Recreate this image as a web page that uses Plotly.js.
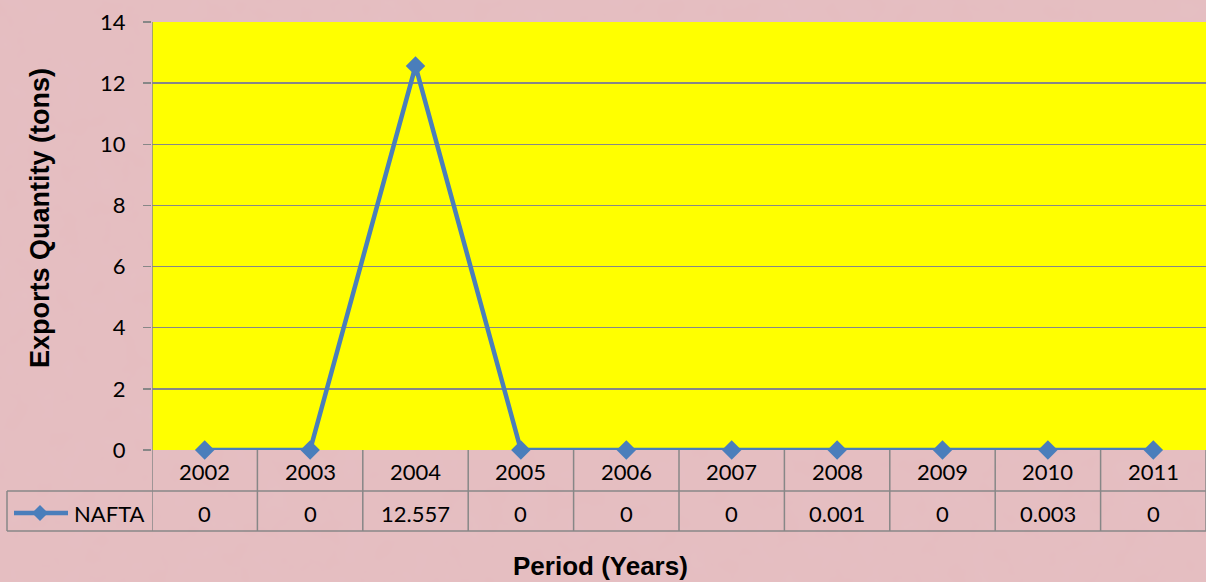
<!DOCTYPE html>
<html>
<head>
<meta charset="utf-8">
<script src="https://cdn.plot.ly/plotly-3.0.1.min.js"></script>
<style>
  html, body { margin: 0; padding: 0; }
  body {
    background-color: #e5bdc0;
    background-image: url("data:image/svg+xml;utf8,<svg xmlns='http://www.w3.org/2000/svg' width='1206' height='582'><filter id='n'><feTurbulence type='fractalNoise' baseFrequency='0.035' numOctaves='3' seed='7'/><feColorMatrix type='matrix' values='0 0 0 0 0.78  0 0 0 0 0.55  0 0 0 0 0.58  0 0 0 0.35 -0.05'/></filter><rect width='100%25' height='100%25' filter='url(%23n)'/></svg>");
  }
  #chart { width: 1206px; height: 582px; }
</style>
</head>
<body>
<div id="chart"></div>
<script>
// ---- data ----
var years = ['2002', '2003', '2004', '2005', '2006', '2007', '2008', '2009', '2010', '2011'];
var naftaValues = [0, 0, 12.557, 0, 0, 0, 0.001, 0, 0.003, 0];
var seriesName = 'NAFTA';
var yTickValues = [0, 2, 4, 6, 8, 10, 12, 14];
var yTitle = 'Exports Quantity (tons)';
var xTitle = 'Period (Years)';

// ---- geometry helpers (pixels -> paper) ----
var W = 1206, H = 582;
var mL = 152, mR = 0, mT = 22, mB = 132;
var plotW = W - mL - mR, plotH = H - mT - mB;
function px(X) { return (X - mL) / plotW; }
function py(Y) { return (H - mB - Y) / plotH; }

var lineColor = '#4a7ebb';
var gridColor = '#878787';
var tickFont = { family: 'Lato, "Open Sans", sans-serif', size: 22, color: '#000000' };
var xTitleFont = { family: '"Liberation Sans", Arial, sans-serif', size: 26, color: '#000000' };
var yTitleFont = { family: '"Liberation Sans", Arial, sans-serif', size: 27, color: '#000000' };

var trace = {
  x: years,
  y: naftaValues,
  type: 'scatter',
  mode: 'lines+markers',
  name: seriesName,
  line: { color: lineColor, width: 4.5 },
  marker: { symbol: 'diamond', size: 15, color: lineColor },
  cliponaxis: false,
  showlegend: false
};

var shapes = [];
var annotations = [];

var rowMid = py(491), rowBot = py(531), yearY = py(471), valY = py(513);

// vertical table lines at category boundaries
for (var i = 0; i <= years.length; i++) {
  shapes.push({ type: 'line', xref: 'x', yref: 'paper', x0: i - 0.5, x1: i - 0.5,
    y0: i === 0 ? 1 : 0, y1: rowBot, line: { color: gridColor, width: 1.5 } });
}
// horizontal table lines
shapes.push({ type: 'line', xref: 'paper', yref: 'paper', x0: px(7), x1: 1, y0: rowMid, y1: rowMid,
  line: { color: gridColor, width: 1.5 } });
shapes.push({ type: 'line', xref: 'paper', yref: 'paper', x0: px(7), x1: 1, y0: rowBot, y1: rowBot,
  line: { color: gridColor, width: 1.5 } });
// legend cell left border
shapes.push({ type: 'line', xref: 'paper', yref: 'paper', x0: px(7), x1: px(7), y0: rowMid, y1: rowBot,
  line: { color: gridColor, width: 1.5 } });
// legend key: line + diamond
shapes.push({ type: 'line', xref: 'paper', yref: 'paper', x0: px(14), x1: px(68), y0: valY, y1: valY,
  line: { color: lineColor, width: 4.5 } });
var dx = 8, dy = 8, cx = 40, cy = 513;
shapes.push({ type: 'path', xref: 'paper', yref: 'paper',
  path: 'M ' + px(cx - dx) + ' ' + py(cy) + ' L ' + px(cx) + ' ' + py(cy - dy) +
        ' L ' + px(cx + dx) + ' ' + py(cy) + ' L ' + px(cx) + ' ' + py(cy + dy) + ' Z',
  fillcolor: lineColor, line: { width: 0 } });

// table text: years and values
for (var j = 0; j < years.length; j++) {
  annotations.push({ xref: 'x', yref: 'paper', x: j, y: yearY, text: years[j], showarrow: false,
    xanchor: 'center', yanchor: 'middle', font: tickFont });
  annotations.push({ xref: 'x', yref: 'paper', x: j, y: valY, text: String(naftaValues[j]), showarrow: false,
    xanchor: 'center', yanchor: 'middle', font: tickFont });
}
annotations.push({ xref: 'paper', yref: 'paper', x: px(72), y: valY, text: seriesName, showarrow: false,
  xanchor: 'left', yanchor: 'middle', font: tickFont });

// axis titles
annotations.push({ xref: 'paper', yref: 'paper', x: px(600), y: py(566), text: '<b>' + xTitle + '</b>',
  showarrow: false, xanchor: 'center', yanchor: 'middle', font: xTitleFont });
annotations.push({ xref: 'paper', yref: 'paper', x: px(40), y: py(218), text: '<b>' + yTitle + '</b>',
  showarrow: false, textangle: -90, xanchor: 'center', yanchor: 'middle', font: yTitleFont });

var layout = {
  width: W, height: H,
  margin: { l: mL, r: mR, t: mT, b: mB, pad: 0 },
  paper_bgcolor: 'rgba(0,0,0,0)',
  plot_bgcolor: '#ffff00',
  showlegend: false,
  xaxis: {
    type: 'category',
    range: [-0.5, years.length - 0.5],
    showticklabels: false,
    showgrid: false,
    zeroline: false,
    showline: false,
    ticks: '',
    fixedrange: true
  },
  yaxis: {
    range: [0, 14],
    tickvals: yTickValues,
    ticktext: yTickValues.map(String),
    showgrid: true,
    gridcolor: gridColor,
    gridwidth: 1.5,
    zeroline: false,
    showline: false,
    ticks: 'outside',
    ticklen: 8,
    tickwidth: 1.5,
    tickcolor: gridColor,
    tickfont: tickFont,
    ticklabelstandoff: 13,
    fixedrange: true
  },
  shapes: shapes,
  annotations: annotations
};

Plotly.newPlot('chart', [trace], layout, { displayModeBar: false, staticPlot: true });
</script>
</body>
</html>
